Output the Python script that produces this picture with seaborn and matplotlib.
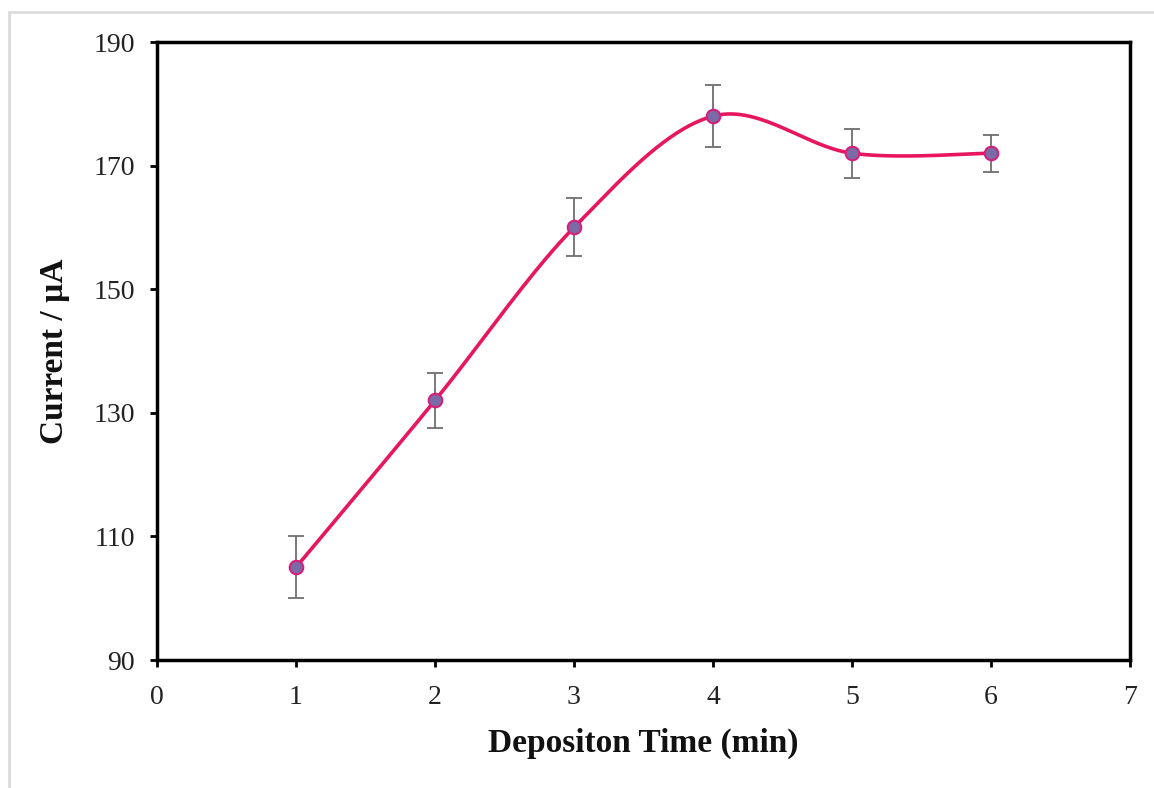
import numpy as np
import pandas as pd
import matplotlib
matplotlib.use("Agg")
import matplotlib.pyplot as plt
import seaborn as sns

time_min = [1, 2, 3, 4, 5, 6]
current_uA = [105, 132, 160, 178, 172, 172]
error_uA = [5, 4.5, 4.7, 5, 4, 3]
x_ticks = [0, 1, 2, 3, 4, 5, 6, 7]
y_ticks = [90, 110, 130, 150, 170, 190]

sns.set_style("white")
plt.rcParams['font.family'] = ['Liberation Serif', 'DejaVu Serif']


def smooth_curve(xs, ys, n=60):
    # Excel-style smoothed line (uniform Catmull-Rom via cubic Bezier)
    xs = np.asarray(xs, float)
    ys = np.asarray(ys, float)
    px = np.concatenate([[xs[0]], xs, [xs[-1]]])
    py = np.concatenate([[ys[0]], ys, [ys[-1]]])
    outx, outy = [], []
    t = np.linspace(0, 1, n)
    for i in range(1, len(px) - 2):
        p0 = np.array([px[i], py[i]])
        p3 = np.array([px[i + 1], py[i + 1]])
        c1 = p0 + (np.array([px[i + 1], py[i + 1]]) - np.array([px[i - 1], py[i - 1]])) / 6
        c2 = p3 - (np.array([px[i + 2], py[i + 2]]) - np.array([px[i], py[i]])) / 6
        b = ((1 - t) ** 3)[:, None] * p0 + (3 * (1 - t) ** 2 * t)[:, None] * c1 \
            + (3 * (1 - t) * t ** 2)[:, None] * c2 + (t ** 3)[:, None] * p3
        outx.extend(b[:, 0]); outy.extend(b[:, 1])
    return np.array(outx), np.array(outy)


sx, sy = smooth_curve(time_min, current_uA)
curve = pd.DataFrame({"t": sx, "c": sy})
pts = pd.DataFrame({"t": time_min, "c": current_uA})

fig = plt.figure(figsize=(11.54, 7.88), dpi=100)
ax = fig.add_axes([157 / 1154, 1 - 660 / 788, (1130 - 157) / 1154, (660 - 42) / 788])

# light frame around the chart
fig.add_artist(plt.Line2D([9 / 1154, 9 / 1154], [0, 1 - 12 / 788], color="#dcdcdc", lw=2, transform=fig.transFigure))
fig.add_artist(plt.Line2D([9 / 1154, 1], [1 - 12 / 788, 1 - 12 / 788], color="#dcdcdc", lw=2, transform=fig.transFigure))

ax.errorbar(time_min, current_uA, yerr=error_uA, fmt="none", ecolor="#6e6e6e",
            elinewidth=1.3, capsize=6, capthick=1.3, zorder=2)
sns.lineplot(data=curve, x="t", y="c", ax=ax, color="#e8155f", lw=2.6, sort=False, zorder=3)
sns.scatterplot(data=pts, x="t", y="c", ax=ax, s=95, color="#7a6aa6",
                edgecolor="#d4207a", linewidth=1.5, zorder=4)

ax.set_xlim(0, 7)
ax.set_ylim(90, 190)
ax.set_xticks(x_ticks)
ax.set_yticks(y_ticks)
ax.tick_params(axis="both", direction="out", length=5, width=2, colors="black",
               labelsize=20, bottom=True, left=True)
ax.tick_params(axis="y", pad=11)
ax.tick_params(axis="x", pad=13)
for lab in ax.get_xticklabels() + ax.get_yticklabels():
    lab.set_color("#222222")
for s in ax.spines.values():
    s.set_linewidth(2.5)
    s.set_color("black")
ax.set_xlabel("Depositon Time (min)", fontsize=24, fontweight="bold", labelpad=13, color="#111111")
ax.set_ylabel("Current / µA", fontsize=24, fontweight="bold", labelpad=17, color="#111111")

fig.savefig("out.png", dpi=100)
